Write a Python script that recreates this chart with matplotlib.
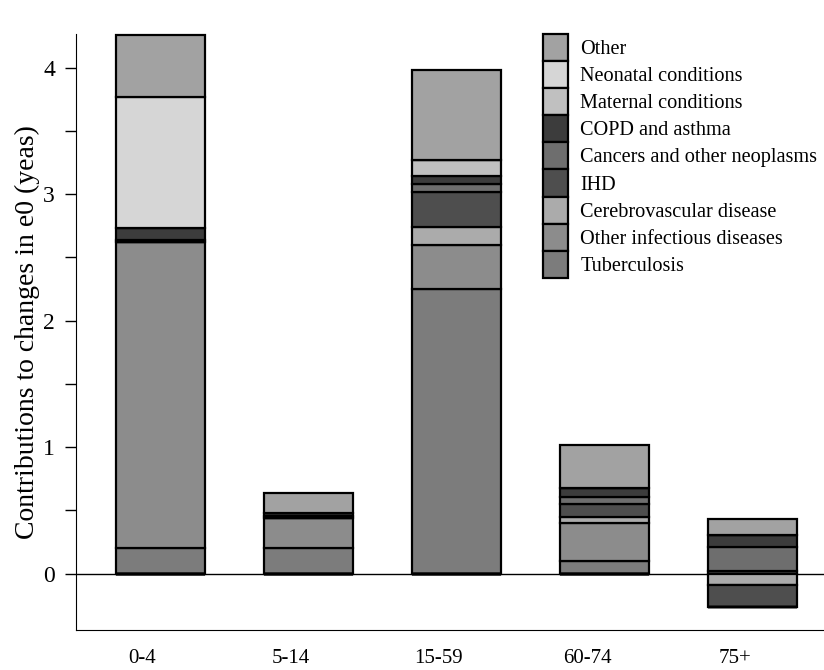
import numpy as np
import matplotlib
matplotlib.use("Agg")
import matplotlib.pyplot as plt
from matplotlib.ticker import MultipleLocator

plt.rcParams['font.family'] = ['Liberation Serif', 'DejaVu Serif']

age_groups = ['0-4', '5-14', '15-59', '60-74', '75+']

# bottom to top stacking order
causes = ['Tuberculosis', 'Other infectious diseases', 'Cerebrovascular disease',
          'IHD', 'Cancers and other neoplasms', 'COPD and asthma',
          'Maternal conditions', 'Neonatal conditions', 'Other']

tuberculosis = [0.20, 0.20, 2.25, 0.10, 0.02]
other_infectious = [2.42, 0.24, 0.35, 0.30, 0.00]
cerebrovascular = [0.00, 0.00, 0.14, 0.05, -0.09]
ihd = [0.00, 0.00, 0.28, 0.10, -0.17]
cancers = [0.02, 0.02, 0.06, 0.06, 0.19]
copd = [0.09, 0.02, 0.06, 0.07, 0.10]
maternal = [0.00, 0.00, 0.13, 0.00, 0.00]
neonatal = [1.04, 0.00, 0.00, 0.00, 0.00]
other = [0.49, 0.16, 0.71, 0.34, 0.12]

values = [tuberculosis, other_infectious, cerebrovascular, ihd, cancers,
          copd, maternal, neonatal, other]

colors = ['#7c7c7c', '#8c8c8c', '#ababab', '#4e4e4e', '#6e6e6e',
          '#3c3c3c', '#c0c0c0', '#d6d6d6', '#a2a2a2']

fig = plt.figure(figsize=(8.24, 6.7), dpi=100)
ax = fig.add_axes([0.092, 0.06, 0.908, 0.89])

x = np.arange(len(age_groups))
width = 0.6
pos_base = np.zeros(len(x))
neg_base = np.zeros(len(x))
handles = []
for name, vals, c in zip(causes, values, colors):
    vals = np.array(vals)
    pos = np.where(vals > 0, vals, 0)
    neg = np.where(vals < 0, vals, 0)
    h = ax.bar(x, pos, width, bottom=pos_base, color=c, edgecolor='black',
               linewidth=1.6, label=name, clip_on=False)
    ax.bar(x, neg, width, bottom=neg_base, color=c, edgecolor='black',
           linewidth=1.6)
    pos_base += pos
    neg_base += neg
    handles.append(h)

ax.axhline(0, color='black', linewidth=1.0, zorder=0)

ax.set_xlim(-0.57, 4.48)
ax.set_ylim(-0.443, 4.27)
ax.yaxis.set_major_locator(MultipleLocator(1))
ax.yaxis.set_minor_locator(MultipleLocator(0.5))
ax.tick_params(axis='y', which='both', direction='out', length=8, width=1,
               labelsize=17, pad=7)
ax.set_xticks(x - 0.12)
ax.set_xticklabels(age_groups, fontsize=15)
ax.tick_params(axis='x', length=0, pad=14)
ax.spines['top'].set_visible(False)
ax.spines['right'].set_visible(False)
ax.set_ylabel('Contributions to changes in e0 (yeas)', fontsize=20, labelpad=2)

leg = ax.legend(handles[::-1], causes[::-1], loc='upper left',
                bbox_to_anchor=(0.614, 1.013), frameon=False, fontsize=14.6,
                handlelength=1.2, handleheight=1.68, labelspacing=0.0,
                handletextpad=0.62, borderaxespad=0)

plt.savefig('out.png', dpi=100)
